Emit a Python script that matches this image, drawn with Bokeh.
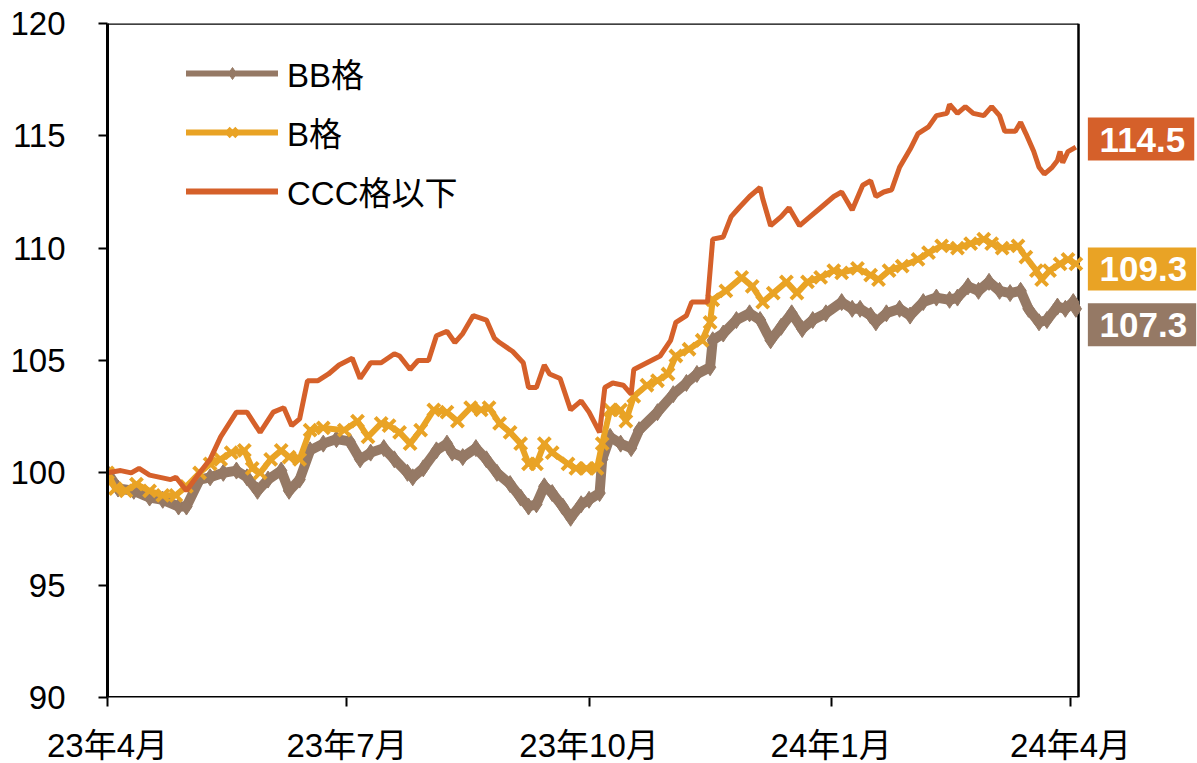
import pandas as pd
from bokeh.plotting import figure
from bokeh.models import Range1d, FixedTicker, Legend, LegendItem, Label
from bokeh.embed import file_html
from bokeh.resources import INLINE

# ---------------- data ----------------
start_date = "2023-04-01"
end_date = "2024-04-04"
tick_dates = ["2023-04-01", "2023-07-01", "2023-10-01", "2024-01-01", "2024-04-01"]
tick_labels = ["23年4月", "23年7月", "23年10月", "24年1月", "24年4月"]
y_ticks = [90, 95, 100, 105, 110, 115, 120]

series_names = ["BB格", "B格", "CCC格以下"]

# days elapsed since start_date, and index values
bb_day = [0, 4, 10, 16, 21, 27, 30, 35, 39, 44, 49, 53, 57, 61, 66, 69, 73, 77, 82, 87,
          92, 96, 100, 105, 109, 114, 116, 120, 125, 129, 131, 135, 140, 144, 148, 153, 157, 160, 163, 166,
          169, 173, 176, 180, 183, 187, 188, 191, 195, 199, 202, 209, 215, 220, 224, 229, 230, 234, 239, 244,
          248, 252, 256, 260, 264, 268, 273, 279, 283, 286, 290, 292, 296, 301, 305, 310, 315, 320, 323, 327,
          331, 335, 339, 343, 347, 350, 354, 357, 361, 364, 367, 368]
bb_val = [100.0, 99.3, 99.2, 98.9, 98.8, 98.5, 98.5, 99.7, 99.8, 100.0, 100.1, 99.8, 99.2, 99.7, 100.1, 99.2, 99.7, 101.0, 101.3, 101.5,
          101.4, 100.6, 100.9, 101.1, 100.6, 100.0, 99.8, 100.2, 101.0, 101.3, 100.9, 100.7, 101.1, 100.6, 100.0, 99.5, 98.9, 98.5, 98.6, 99.4,
          99.1, 98.5, 98.0, 98.6, 98.8, 99.1, 100.6, 101.6, 101.3, 101.1, 101.9, 102.7, 103.5, 104.0, 104.4, 104.7, 105.9, 106.2, 106.8, 107.1,
          106.8, 105.9, 106.5, 107.1, 106.4, 106.8, 107.1, 107.6, 107.3, 107.3, 107.0, 106.7, 107.1, 107.3, 107.0, 107.6, 107.8, 107.7, 107.8, 108.3,
          108.1, 108.5, 108.1, 108.0, 108.1, 107.3, 106.7, 106.8, 107.4, 107.3, 107.6, 107.3]

b_day = [0, 3, 7, 11, 16, 21, 26, 30, 35, 39, 43, 47, 52, 55, 58, 62, 66, 69, 73, 77,
         82, 90, 95, 99, 104, 107, 111, 115, 119, 124, 129, 133, 138, 142, 145, 149, 153, 157, 160, 163,
         166, 169, 175, 178, 182, 186, 188, 191, 195, 197, 200, 205, 209, 213, 216, 221, 226, 229, 230, 235,
         241, 245, 249, 253, 258, 262, 266, 271, 276, 279, 285, 290, 293, 297, 302, 308, 312, 317, 323, 328,
         333, 336, 340, 346, 349, 353, 355, 358, 362, 365, 368]
b_val = [100.0, 99.3, 99.2, 99.5, 99.2, 99.0, 99.0, 99.4, 100.0, 100.4, 100.6, 100.9, 101.0, 100.2, 100.0, 100.6, 101.0, 100.7, 100.6, 101.9,
         102.0, 101.9, 102.3, 101.6, 102.2, 102.1, 101.8, 101.3, 101.9, 102.8, 102.7, 102.3, 102.9, 102.8, 102.9, 102.2, 101.8, 101.3, 100.4, 100.4,
         101.3, 100.9, 100.4, 100.2, 100.2, 100.2, 101.3, 102.8, 102.8, 102.3, 103.4, 103.9, 104.1, 104.4, 105.2, 105.5, 105.9, 106.7, 107.7, 108.1,
         108.7, 108.3, 107.6, 108.0, 108.5, 108.0, 108.5, 108.7, 109.0, 108.9, 109.1, 108.8, 108.6, 109.0, 109.2, 109.5, 109.8, 110.1, 110.0, 110.2,
         110.4, 110.2, 110.0, 110.1, 109.6, 109.0, 108.6, 109.0, 109.3, 109.5, 109.3]

ccc_day = [0, 5, 9, 12, 16, 20, 24, 26, 28, 30, 35, 39, 43, 49, 53, 58, 63, 67, 70, 73,
           76, 80, 84, 88, 93, 96, 100, 104, 109, 111, 115, 118, 122, 125, 129, 132, 135, 139, 144, 147,
           149, 154, 158, 160, 163, 166, 168, 172, 176, 180, 183, 187, 189, 192, 196, 199, 200, 205, 210, 214,
           216, 220, 222, 228, 230, 234, 237, 240, 244, 248, 249, 252, 256, 259, 263, 267, 271, 276, 279, 283,
           287, 290, 292, 295, 298, 301, 305, 308, 312, 315, 319, 320, 323, 326, 329, 333, 336, 339, 341, 345,
           347, 349, 352, 354, 356, 359, 361, 362, 363, 365, 368]
ccc_val = [100.0, 100.1, 100.0, 100.2, 99.9, 99.8, 99.7, 99.8, 99.5, 99.2, 100.0, 100.6, 101.6, 102.7, 102.7, 101.8, 102.7, 102.9, 102.1, 102.4,
           104.1, 104.1, 104.4, 104.8, 105.1, 104.2, 104.9, 104.9, 105.3, 105.2, 104.6, 105.0, 105.0, 106.1, 106.3, 105.8, 106.2, 107.0, 106.8, 106.0,
           105.8, 105.4, 104.9, 103.8, 103.8, 104.8, 104.4, 104.2, 102.8, 103.2, 102.7, 101.8, 103.8, 104.0, 103.9, 103.5, 104.6, 104.9, 105.2, 105.9,
           106.7, 107.0, 107.6, 107.6, 110.4, 110.5, 111.4, 111.8, 112.3, 112.7, 112.2, 111.0, 111.4, 111.8, 111.0, 111.4, 111.8, 112.3, 112.5, 111.7,
           112.8, 113.0, 112.3, 112.5, 112.6, 113.6, 114.4, 115.1, 115.4, 115.9, 116.0, 116.4, 116.0, 116.3, 116.0, 115.9, 116.3, 115.9, 115.2, 115.2,
           115.6, 115.1, 114.3, 113.6, 113.3, 113.6, 113.9, 114.3, 113.8, 114.3, 114.5]

# ---------------- styling ----------------
C_BB = "#957965"
C_B = "#E9A325"
C_CCC = "#D5602A"
FONT = "Liberation Sans, Noto Sans CJK JP"
FS = "33px"

t0 = pd.Timestamp(start_date)
x_end = (pd.Timestamp(end_date) - t0).days
tick_pos = [(pd.Timestamp(d) - t0).days for d in tick_dates]

# the frame is widened to the right so that the end-value tags sit inside it;
# the visible chart box (axes + border) ends at x_end
BORDER_L, BORDER_T, BORDER_B = 107, 23, 66
BOX_W, FRAME_W, FRAME_H = 971, 1090, 674
x_max = x_end * FRAME_W / BOX_W
y_min, y_max = y_ticks[0], y_ticks[-1]

p = figure(frame_width=FRAME_W, frame_height=FRAME_H,
           min_border_left=BORDER_L, min_border_right=0, min_border_top=BORDER_T, min_border_bottom=BORDER_B,
           x_range=Range1d(0, x_max), y_range=Range1d(y_min, y_max),
           output_backend="svg", toolbar_location=None)
p.background_fill_color = "white"
p.border_fill_color = "white"
p.grid.visible = False
p.outline_line_color = None

for ax in (p.xaxis[0], p.yaxis[0]):
    ax.axis_line_color = "black"
    ax.axis_line_width = 3
    ax.major_tick_line_color = "black"
    ax.major_tick_line_width = 2
    ax.major_tick_in = 0
    ax.minor_tick_line_color = None
    ax.major_label_text_font = FONT
    ax.major_label_text_font_size = FS
    ax.major_label_text_color = "black"

p.xaxis.axis_line_color = None
p.xaxis.ticker = FixedTicker(ticks=tick_pos)
p.xaxis.major_label_overrides = {tp: lab for tp, lab in zip(tick_pos, tick_labels)}
p.xaxis.major_tick_out = 9
p.xaxis.major_label_standoff = 20

p.yaxis.ticker = FixedTicker(ticks=y_ticks)
p.yaxis.major_tick_out = 9
p.yaxis.major_label_standoff = 33

# chart box: bottom axis line, top and right border
p.segment(x0=[0], y0=[y_min], x1=[x_end], y1=[y_min], line_color="black", line_width=3)
p.segment(x0=[0, x_end], y0=[y_max, y_min], x1=[x_end, x_end], y1=[y_max, y_max], line_color="black", line_width=2.5)

r_bb_l = p.line(bb_day, bb_val, color=C_BB, line_width=10)
r_bb_m = p.scatter(bb_day, bb_val, marker="diamond", size=17, color=C_BB)
r_b_l = p.line(b_day, b_val, color=C_B, line_width=6)
r_b_m = p.scatter(b_day, b_val, marker="x", size=17, line_width=4, color=C_B)
r_c_l = p.line(ccc_day, ccc_val, color=C_CCC, line_width=5)

# legend-only glyphs (thinner, as in the reference key); a single undrawn point each
NAN = float("nan")
lg_bb_l = p.line(x=[0], y=[NAN], color=C_BB, line_width=6, line_cap="round")
lg_bb_m = p.scatter(x=[0], y=[NAN], marker="diamond", size=16, color=C_BB)
lg_b_l = p.line(x=[0], y=[NAN], color=C_B, line_width=6, line_cap="round")
lg_b_m = p.scatter(x=[0], y=[NAN], marker="x", size=13, line_width=4, color=C_B)
lg_c_l = p.line(x=[0], y=[NAN], color=C_CCC, line_width=6, line_cap="round")

legend = Legend(items=[
    LegendItem(label=series_names[0], renderers=[lg_bb_l, lg_bb_m]),
    LegendItem(label=series_names[1], renderers=[lg_b_l, lg_b_m]),
    LegendItem(label=series_names[2], renderers=[lg_c_l]),
], location=(79, 482))
legend.label_text_font = FONT
legend.label_text_font_size = FS
legend.label_text_color = "black"
legend.glyph_width = 92
legend.glyph_height = 30
legend.label_standoff = 9
legend.spacing = 11
legend.padding = 0
legend.margin = 0
legend.border_line_color = None
legend.background_fill_alpha = 0
p.add_layout(legend, "center")

# end-value tags
NB = "\u00a0"
for days, vals, col, yoff in [(ccc_day, ccc_val, C_CCC, 8), (b_day, b_val, C_B, -5), (bb_day, bb_val, C_BB, -16)]:
    lab = Label(x=days[-1], y=vals[-1], x_offset=12, y_offset=yoff,
                text=NB + f"{vals[-1]:.1f}" + "\u2009", text_color="white", text_font=FONT,
                text_font_style="bold", text_font_size="35px", text_baseline="middle", text_align="left",
                background_fill_color=col, padding=2)
    p.add_layout(lab)

open("out.html", "w").write(file_html(p, INLINE))
